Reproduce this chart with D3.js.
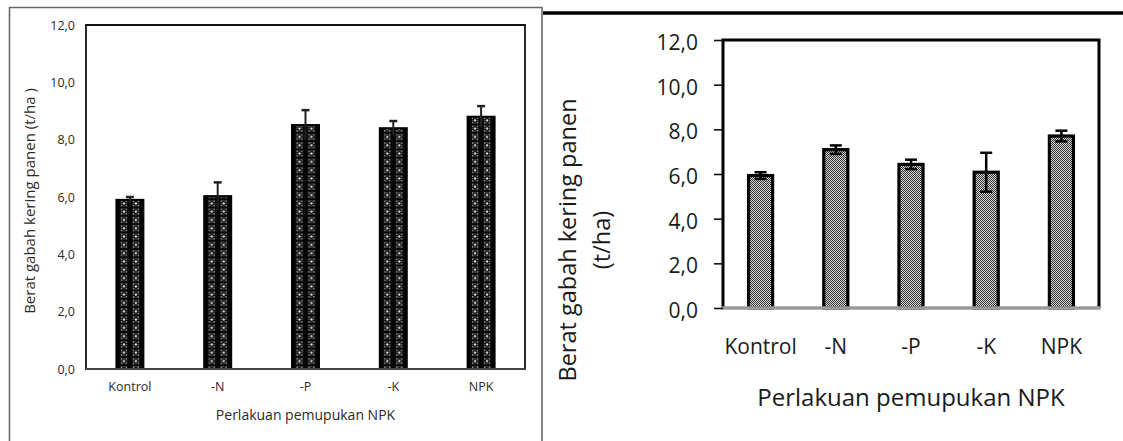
<!DOCTYPE html>
<html><head><meta charset="utf-8">
<script src="https://cdn.jsdelivr.net/npm/d3@7"></script>
<style>html,body{margin:0;padding:0;background:#fff;}svg{display:block;}</style>
</head><body>
<svg id="c" width="1123" height="441"></svg>
<script>
const categories = ["Kontrol", "-N", "-P", "-K", "NPK"];
const leftValues = [5.90, 6.03, 8.51, 8.40, 8.80];
const leftErrors = [0.10, 0.48, 0.52, 0.25, 0.37];
const rightValues = [5.93, 7.09, 6.43, 6.08, 7.70];
const rightErrors = [0.15, 0.19, 0.21, 0.87, 0.24];
const yTicks = [0, 2, 4, 6, 8, 10, 12];
const yTitle = "Berat gabah kering panen (t/ha )";
const yTitleLine1 = "Berat gabah kering panen";
const yTitleLine2 = "(t/ha)";
const xTitle = "Perlakuan pemupukan NPK";

const fmt = d3.formatLocale({decimal: ",", thousands: ".", grouping: [3], currency: ["", ""]}).format(".1f");
const svg = d3.select("#c");
const FONT = "'Open Sans', sans-serif";
const defs = svg.append("defs");

// ---------- outer frames ----------
const frame = svg.append("g").attr("fill", "none");
frame.append("path").attr("d", "M9.5,441 V7.5 H542 V441").attr("stroke", "#6a6a6a").attr("stroke-width", 1.6);
frame.append("line").attr("x1", 543).attr("x2", 1123).attr("y1", 13).attr("y2", 13).attr("stroke", "#000").attr("stroke-width", 3.5);

// ---------- LEFT CHART ----------
(function() {
  const x = d3.scaleBand().domain(categories).range([86, 525]).paddingInner(0.67).paddingOuter(0.335);
  const y = d3.scaleLinear().domain([0, 12]).range([369, 25]);
  const g = svg.append("g");
  const data = categories.map((c, i) => ({c, v: leftValues[i], e: leftErrors[i], i}));

  data.forEach(d => {
    const cx = x(d.c) + x.bandwidth() / 2;
    const p = defs.append("pattern").attr("id", "lp" + d.i).attr("patternUnits", "userSpaceOnUse")
      .attr("width", 12).attr("height", 8.3).attr("x", cx - 12).attr("y", 0);
    p.append("rect").attr("width", 12).attr("height", 8.3).attr("fill", "#050505");
    p.append("circle").attr("cx", 6).attr("cy", 4.1).attr("r", 1.2).attr("fill", "#e8e8e8");
    [[3.6, 1.9], [8.4, 1.9], [3.6, 6.3], [8.4, 6.3]].forEach(q =>
      p.append("circle").attr("cx", q[0]).attr("cy", q[1]).attr("r", 0.85).attr("fill", "#b0b0b0"));
    [[6, 1.5], [6, 6.7], [3.3, 4.1], [8.7, 4.1]].forEach(q =>
      p.append("circle").attr("cx", q[0]).attr("cy", q[1]).attr("r", 0.6).attr("fill", "#808080"));
  });

  g.selectAll("rect.bar").data(data).join("rect").attr("class", "bar")
    .attr("x", d => x(d.c) + 1).attr("width", x.bandwidth() - 2)
    .attr("y", d => y(d.v)).attr("height", d => y(0) - y(d.v))
    .attr("fill", d => `url(#lp${d.i})`).attr("stroke", "#000").attr("stroke-width", 2);

  const eb = g.append("g").attr("stroke", "#222").attr("stroke-width", 2);
  eb.selectAll("line.v").data(data).join("line").attr("class", "v")
    .attr("x1", d => x(d.c) + x.bandwidth() / 2).attr("x2", d => x(d.c) + x.bandwidth() / 2)
    .attr("y1", d => y(d.v - d.e)).attr("y2", d => y(d.v + d.e));
  eb.selectAll("line.cap").data(data).join("line").attr("class", "cap")
    .attr("x1", d => x(d.c) + x.bandwidth() / 2 - 4).attr("x2", d => x(d.c) + x.bandwidth() / 2 + 4)
    .attr("y1", d => y(d.v + d.e)).attr("y2", d => y(d.v + d.e)).attr("stroke-width", 2.5);

  g.append("path").attr("d", `M86,369 V25 H525 V369`).attr("fill", "none").attr("stroke", "#111").attr("stroke-width", 1.8);
  g.append("line").attr("x1", 85).attr("x2", 526).attr("y1", 369).attr("y2", 369).attr("stroke", "#444").attr("stroke-width", 2);

  const ya = g.append("g").attr("transform", "translate(86,0)")
    .call(d3.axisLeft(y).tickValues(yTicks).tickFormat(fmt).tickSize(0).tickPadding(11));
  ya.select(".domain").remove();
  ya.selectAll("text").attr("font-family", FONT).attr("font-size", 12.5).attr("fill", "#2a2a2a");

  const xa = g.append("g").attr("transform", "translate(0,369)")
    .call(d3.axisBottom(x).tickSize(0).tickPadding(13));
  xa.select(".domain").remove();
  xa.selectAll("text").attr("font-family", FONT).attr("font-size", 12.5).attr("fill", "#2a2a2a");

  g.append("text").attr("x", 305.5).attr("y", 415).attr("dy", "0.35em").attr("text-anchor", "middle")
    .attr("font-family", FONT).attr("font-size", 14).attr("fill", "#2a2a2a").text(xTitle);
  g.append("text").attr("transform", "translate(30,201) rotate(-90)").attr("dy", "0.35em").attr("text-anchor", "middle")
    .attr("font-family", FONT).attr("font-size", 15).attr("fill", "#2a2a2a").text(yTitle);
})();

// ---------- RIGHT CHART ----------
(function() {
  const x = d3.scaleBand().domain(categories).range([723, 1099]).paddingInner(0.68).paddingOuter(0.34);
  const y = d3.scaleLinear().domain([0, 12]).range([308, 40]);
  const g = svg.append("g");
  const data = categories.map((c, i) => ({c, v: rightValues[i], e: rightErrors[i], i}));

  const p = defs.append("pattern").attr("id", "rp").attr("patternUnits", "userSpaceOnUse")
    .attr("width", 2).attr("height", 2);
  p.append("rect").attr("width", 2).attr("height", 2).attr("fill", "#d8d8d8");
  p.append("rect").attr("width", 1).attr("height", 1).attr("fill", "#333");
  p.append("rect").attr("x", 1).attr("y", 1).attr("width", 1).attr("height", 1).attr("fill", "#333");

  g.selectAll("rect.bar").data(data).join("rect").attr("class", "bar")
    .attr("x", d => x(d.c)).attr("width", x.bandwidth())
    .attr("y", d => y(d.v)).attr("height", d => y(0) - y(d.v))
    .attr("fill", "url(#rp)").attr("stroke", "#000").attr("stroke-width", 3.2);

  g.append("path").attr("d", `M723,308 V40 H1099 V308`).attr("fill", "none").attr("stroke", "#000").attr("stroke-width", 3);
  g.append("line").attr("x1", 721.5).attr("x2", 1100.5).attr("y1", 308).attr("y2", 308).attr("stroke", "#9a9a9a").attr("stroke-width", 3.5);

  const eb = g.append("g").attr("stroke", "#000").attr("stroke-width", 2.5);
  eb.selectAll("line.v").data(data).join("line").attr("class", "v")
    .attr("x1", d => x(d.c) + x.bandwidth() / 2).attr("x2", d => x(d.c) + x.bandwidth() / 2)
    .attr("y1", d => y(d.v - d.e)).attr("y2", d => y(d.v + d.e));
  ["hi", "lo"].forEach(k => {
    eb.selectAll("line.cap" + k).data(data).join("line").attr("class", "cap" + k)
      .attr("x1", d => x(d.c) + x.bandwidth() / 2 - 6).attr("x2", d => x(d.c) + x.bandwidth() / 2 + 6)
      .attr("y1", d => y(k === "hi" ? d.v + d.e : d.v - d.e)).attr("y2", d => y(k === "hi" ? d.v + d.e : d.v - d.e));
  });

  const ya = g.append("g").attr("transform", "translate(723,0)")
    .call(d3.axisLeft(y).tickValues(yTicks).tickFormat(fmt).tickSize(9).tickPadding(16));
  ya.select(".domain").remove();
  ya.selectAll(".tick line").attr("stroke", "#111").attr("stroke-width", 1.6);
  ya.selectAll("text").attr("font-family", FONT).attr("font-size", 21).attr("fill", "#1a1a1a").attr("dy", "0.45em");

  const xa = g.append("g").attr("transform", "translate(0,308)")
    .call(d3.axisBottom(x).tickSize(0).tickPadding(31));
  xa.select(".domain").remove();
  xa.selectAll("text").attr("font-family", FONT).attr("font-size", 21).attr("fill", "#1a1a1a");

  g.append("text").attr("x", 911).attr("y", 398).attr("dy", "0.35em").attr("text-anchor", "middle")
    .attr("font-family", FONT).attr("font-size", 24).attr("fill", "#1a1a1a").text(xTitle);
  const t = g.append("text").attr("transform", "translate(568,240) rotate(-90)").attr("text-anchor", "middle")
    .attr("font-family", FONT).attr("font-size", 23.5).attr("fill", "#1a1a1a");
  t.append("tspan").attr("x", 0).attr("dy", "0.35em").text(yTitleLine1);
  t.append("tspan").attr("x", 0).attr("dy", 34).text(yTitleLine2);
})();
</script>
</body></html>
